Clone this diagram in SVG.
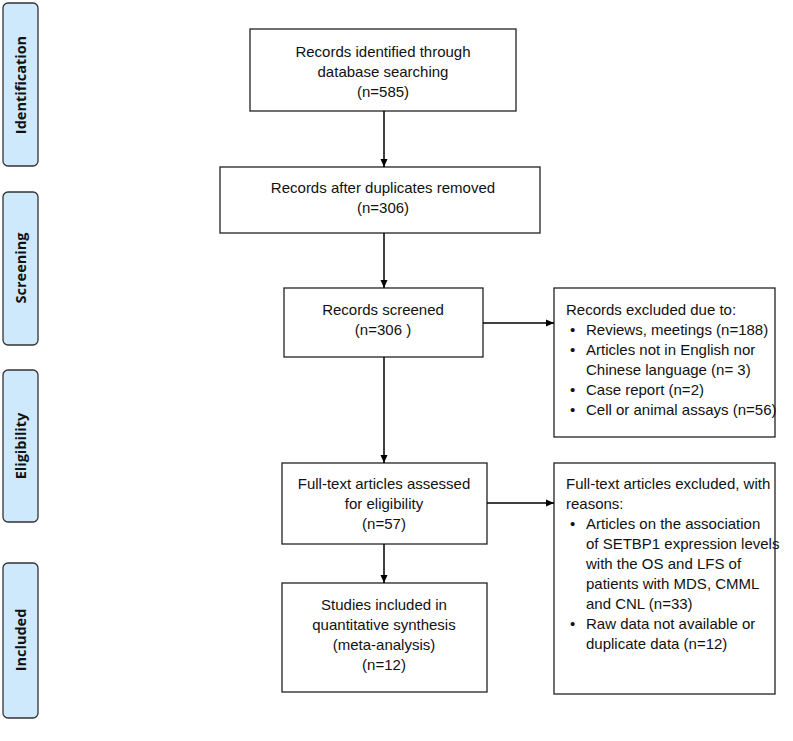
<svg xmlns="http://www.w3.org/2000/svg" width="793" height="741" viewBox="0 0 793 741">
<defs>
<marker id="ah" markerWidth="9" markerHeight="9" refX="8" refY="4" orient="auto" markerUnits="userSpaceOnUse">
<path d="M0,0.5 L8,4 L0,7.5 Z" fill="#000"/>
</marker>
<style>
.box{fill:#fff;stroke:#222;stroke-width:1.3}
.side{fill:#cfe9fc;stroke:#333;stroke-width:1.3}
.t{font-family:"Liberation Sans",Arial,sans-serif;font-size:15px;fill:#111}
.c{text-anchor:middle}
.s{font-family:"Open Sans","Liberation Sans",sans-serif;font-size:14.5px;font-weight:bold;fill:#111;text-anchor:middle;dominant-baseline:central}
.ln{stroke:#000;stroke-width:1.5;fill:none;marker-end:url(#ah)}
</style>
</defs>
<rect width="793" height="741" fill="#fff"/>

<g id="side-identification"><rect class="side" x="3" y="3" width="35" height="163" rx="5"/><text class="s" transform="translate(20.5,85) rotate(-90)">Identification</text></g>
<g id="side-screening"><rect class="side" x="3" y="192" width="35" height="153" rx="5"/><text class="s" transform="translate(20.5,268) rotate(-90)">Screening</text></g>
<g id="side-eligibility"><rect class="side" x="3" y="370" width="35" height="152" rx="5"/><text class="s" transform="translate(20.5,446) rotate(-90)">Eligibility</text></g>
<g id="side-included"><rect class="side" x="3" y="563" width="35" height="155" rx="5"/><text class="s" transform="translate(20.5,640) rotate(-90)">Included</text></g>

<g id="n1"><rect class="box" x="250" y="29" width="266" height="82"/>
<text class="t c" x="383" y="57">Records identified through</text>
<text class="t c" x="383" y="77">database searching</text>
<text class="t c" x="383" y="97">(n=585)</text></g>

<g id="n2"><rect class="box" x="220" y="167" width="320" height="66"/>
<text class="t c" x="383" y="193">Records after duplicates removed</text>
<text class="t c" x="383" y="213">(n=306)</text></g>

<g id="n3"><rect class="box" x="284" y="288" width="199" height="69"/>
<text class="t c" x="383" y="315">Records screened</text>
<text class="t c" x="383" y="335">(n=306 )</text></g>

<g id="n4"><rect class="box" x="554" y="288" width="221" height="149"/>
<text class="t" x="566" y="315">Records excluded due to:</text>
<text class="t" x="570" y="335">•</text><text class="t" x="586" y="335">Reviews, meetings (n=188)</text>
<text class="t" x="570" y="355">•</text><text class="t" x="586" y="355">Articles not in English nor</text>
<text class="t" x="586" y="375">Chinese language (n= 3)</text>
<text class="t" x="570" y="395">•</text><text class="t" x="586" y="395">Case report (n=2)</text>
<text class="t" x="570" y="415">•</text><text class="t" x="586" y="415">Cell or animal assays (n=56)</text></g>

<g id="n5"><rect class="box" x="282" y="463" width="205" height="81"/>
<text class="t c" x="384" y="489">Full-text articles assessed</text>
<text class="t c" x="384" y="509">for eligibility</text>
<text class="t c" x="384" y="529">(n=57)</text></g>

<g id="n6"><rect class="box" x="554" y="463" width="221" height="231"/>
<text class="t" x="566" y="489">Full-text articles excluded, with</text>
<text class="t" x="566" y="509">reasons:</text>
<text class="t" x="570" y="529">•</text><text class="t" x="586" y="529">Articles on the association</text>
<text class="t" x="586" y="549">of SETBP1 expression levels</text>
<text class="t" x="586" y="569">with the OS and LFS of</text>
<text class="t" x="586" y="589">patients with MDS, CMML</text>
<text class="t" x="586" y="609">and CNL (n=33)</text>
<text class="t" x="570" y="629">•</text><text class="t" x="586" y="629">Raw data not available or</text>
<text class="t" x="586" y="649">duplicate data (n=12)</text></g>

<g id="n7"><rect class="box" x="282" y="583" width="205" height="109"/>
<text class="t c" x="384" y="610">Studies included in</text>
<text class="t c" x="384" y="630">quantitative synthesis</text>
<text class="t c" x="384" y="650">(meta-analysis)</text>
<text class="t c" x="384" y="670">(n=12)</text></g>

<g id="connectors">
<line class="ln" x1="384" y1="111" x2="384" y2="167"/>
<line class="ln" x1="384" y1="233" x2="384" y2="288"/>
<line class="ln" x1="384" y1="357" x2="384" y2="463"/>
<line class="ln" x1="384" y1="544" x2="384" y2="583"/>
<line class="ln" x1="483" y1="323" x2="554" y2="323"/>
<line class="ln" x1="487" y1="503" x2="554" y2="503"/>
</g>
</svg>
